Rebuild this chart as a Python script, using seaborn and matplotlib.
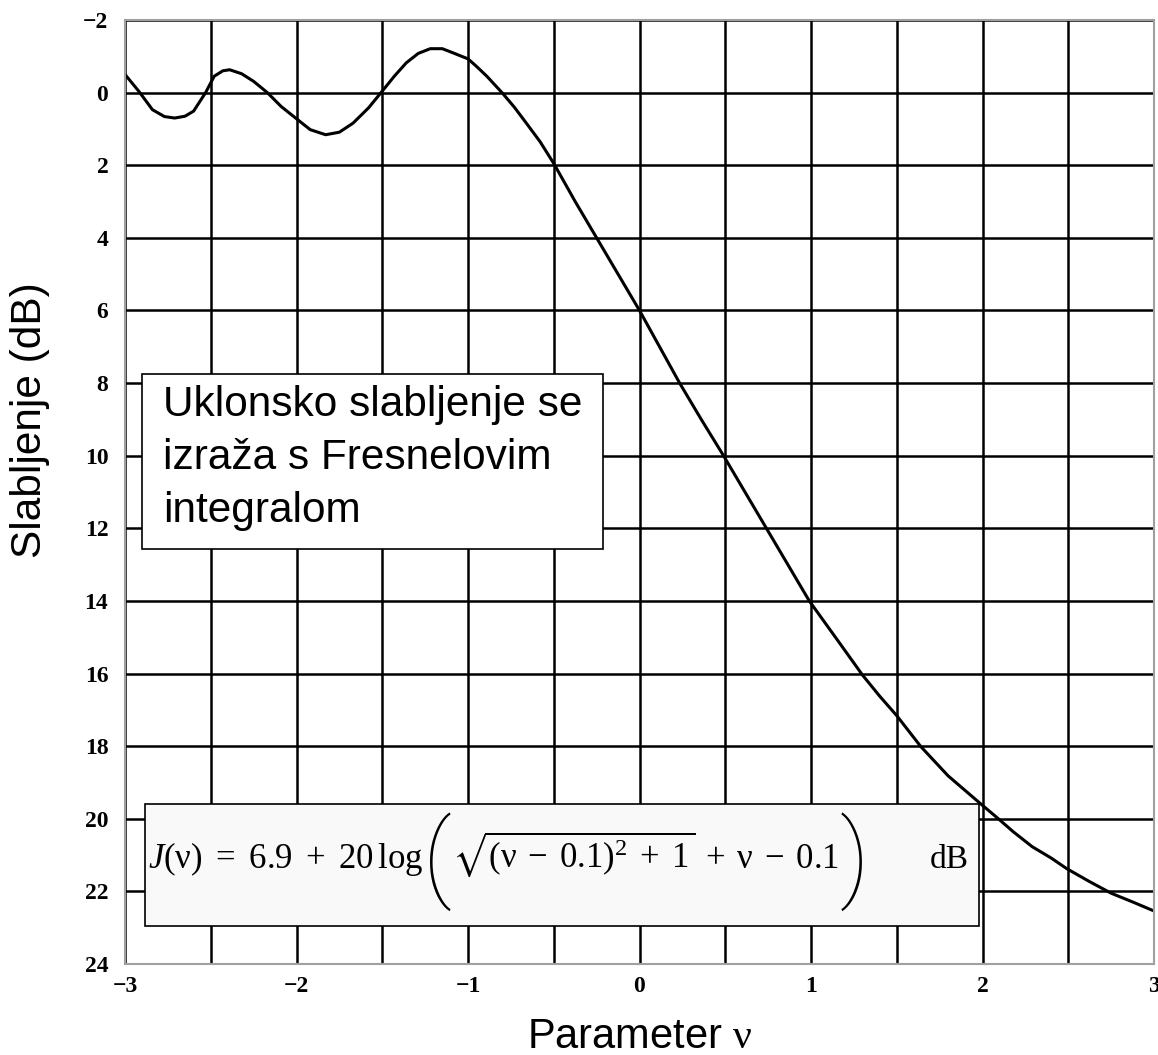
"""
Knife-edge diffraction loss vs. Fresnel parameter v.
"""
import matplotlib
matplotlib.use("Agg")
import matplotlib.pyplot as plt
from matplotlib.patches import Rectangle
from matplotlib.ticker import MultipleLocator
import pandas as pd
import seaborn as sns

# === DATA ===
NU = [-3.00, -2.92, -2.84, -2.77, -2.71, -2.65, -2.60, -2.53, -2.48, -2.43,
      -2.39, -2.32, -2.25, -2.17, -2.09, -2.00, -1.92, -1.83, -1.75, -1.67,
      -1.58, -1.50, -1.43, -1.36, -1.29, -1.22, -1.15, -1.09, -1.00, -0.95,
      -0.89, -0.80, -0.73, -0.66, -0.58, -0.50, -0.375, -0.25, -0.125, 0.00,
      0.117, 0.234, 0.36, 0.49, 0.615, 0.74, 0.865, 0.99, 1.15, 1.30, 1.40,
      1.50, 1.64, 1.80, 1.98, 2.085, 2.18, 2.29, 2.40, 2.49, 2.62, 2.75,
      2.88, 3.00]
LOSS = [-0.50, -0.04, 0.47, 0.66, 0.70, 0.65, 0.51, 0.00, -0.45, -0.60,
        -0.63, -0.52, -0.31, 0.00, 0.38, 0.72, 1.02, 1.16, 1.09, 0.84,
        0.42, -0.04, -0.45, -0.82, -1.08, -1.21, -1.21, -1.10, -0.93, -0.72,
        -0.45, 0.01, 0.40, 0.84, 1.35, 1.95, 3.00, 4.00, 5.00, 6.00,
        7.00, 8.00, 9.00, 10.00, 11.00, 12.00, 13.00, 14.00, 15.05, 16.04, 16.62,
        17.16, 18.01, 18.82, 19.55, 19.97, 20.36, 20.77, 21.08, 21.37, 21.72, 22.05,
        22.30, 22.54]

X_TICKS = [-3, -2, -1, 0, 1, 2, 3]
X_TICK_LABELS = ["\u22123", "\u22122", "\u22121", "0", "1", "2", "3"]
Y_TICKS = [-2, 0, 2, 4, 6, 8, 10, 12, 14, 16, 18, 20, 22, 24]
Y_TICK_LABELS = ["\u22122"] + [str(v) for v in Y_TICKS[1:]]

NOTE_TEXT = "Uklonsko slabljenje se\nizraža s Fresnelovim\nintegralom"
FORMULA_LEFT = r"$J(\mathrm{\nu})\ =\ 6.9\ +\ 20\,\log$"
FORMULA_MID = r"$\sqrt{(\mathrm{\nu}\;-\;0.1)^2\;+\;1}\;+\;\mathrm{\nu}\;-\;0.1$"


def main():
    sns.set_theme(style="white")
    plt.rcParams["font.family"] = ["Liberation Sans", "DejaVu Sans"]
    plt.rcParams["mathtext.fontset"] = "custom"
    plt.rcParams["mathtext.rm"] = "Liberation Serif"
    plt.rcParams["mathtext.it"] = "Liberation Serif:italic"
    plt.rcParams["mathtext.bf"] = "Liberation Serif:bold"
    plt.rcParams["mathtext.fallback"] = "stix"
    for key in ["text.color", "axes.labelcolor", "xtick.color", "ytick.color"]:
        plt.rcParams[key] = "black"

    fig = plt.figure(figsize=(11.58, 10.55), dpi=100)
    ax = fig.add_axes([125 / 1158, 1 - 964 / 1055, 1029 / 1158, 944 / 1055])

    df = pd.DataFrame({"nu": NU, "loss": LOSS})
    sns.lineplot(data=df, x="nu", y="loss", color="black", linewidth=2.2,
                 sort=False, ax=ax, zorder=2.5)

    ax.set_xlim(-3, 3)
    ax.set_ylim(24, -2)
    ax.set_xticks(X_TICKS)
    ax.set_xticklabels(X_TICK_LABELS)
    ax.set_yticks(Y_TICKS)
    ax.set_yticklabels(Y_TICK_LABELS)
    ax.xaxis.set_minor_locator(MultipleLocator(0.5))
    ax.set_axisbelow(True)
    ax.grid(which="both", color="black", linewidth=1.8)
    ax.tick_params(which="both", length=0)
    ax.tick_params(axis="x", pad=9)
    ax.tick_params(axis="y", pad=12)
    for lab in ax.get_xticklabels() + ax.get_yticklabels():
        lab.set_fontfamily("Liberation Serif")
        lab.set_fontweight("bold")
        lab.set_fontsize(17)
    for sp in ax.spines.values():
        sp.set_color("#a0a0a0")
        sp.set_linewidth(1.5)

    ax.set_xlabel("Parameter $\\mathrm{\\nu}$", fontsize=30)
    ax.set_ylabel("Slabljenje (dB)", fontsize=30.5)
    ax.xaxis.set_label_coords(0.5, -0.056)
    ax.yaxis.set_label_coords(-0.073, 0.576)

    # note box
    ax.add_patch(Rectangle((-2.90, 7.75), 2.69, 4.83, facecolor="white",
                           edgecolor="black", linewidth=1.2, zorder=3))
    ax.text(-2.78, 8.05, NOTE_TEXT, fontsize=30.5, va="top", ha="left",
            linespacing=1.42, zorder=4)

    # formula box
    ax.add_patch(Rectangle((-2.883, 19.59), 4.86, 3.36, facecolor="#f9f9f9",
                           edgecolor="black", linewidth=1.2, zorder=3))
    base = 21.35
    t1 = ax.text(-2.866, base, FORMULA_LEFT, fontsize=25, va="baseline",
                 ha="left", zorder=4)
    paren = dict(fontsize=70, fontfamily="Roboto", fontweight=100,
                 va="center", ha="left", textcoords="offset points", zorder=4)
    t2 = ax.annotate("(", xy=(1, 21.19), xycoords=(t1, "data"),
                     xytext=(0, 0), **paren)
    t3 = ax.annotate(FORMULA_MID, xy=(1, base), xycoords=(t2, "data"),
                     xytext=(0, 0), textcoords="offset points", fontsize=25,
                     va="baseline", ha="left", zorder=4)
    ax.annotate(")", xy=(1, 21.19), xycoords=(t3, "data"),
                xytext=(0, 0), **paren)
    ax.text(1.92, base, "dB", fontsize=24, va="baseline", ha="right",
            fontfamily="Liberation Serif", zorder=4)

    plt.savefig("out.png", dpi=100)
    plt.close()


if __name__ == "__main__":
    main()
